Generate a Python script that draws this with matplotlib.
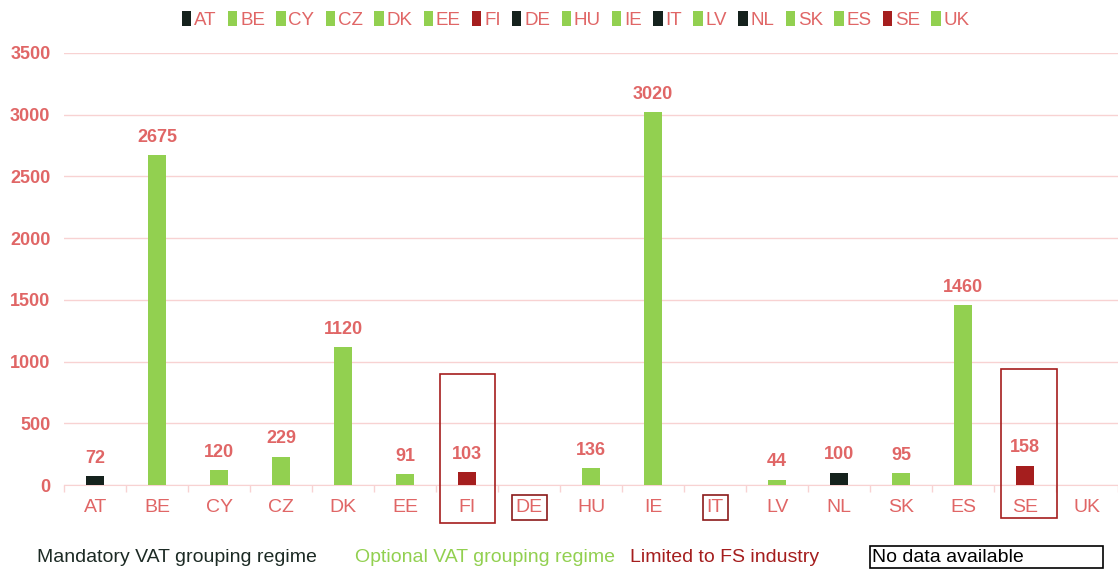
import matplotlib
matplotlib.use("Agg")
import matplotlib.pyplot as plt
from matplotlib.patches import Rectangle, Patch
import numpy as np

plt.rcParams['font.family'] = ['Liberation Sans', 'DejaVu Sans']

countries = ["AT", "BE", "CY", "CZ", "DK", "EE", "FI", "DE", "HU", "IE", "IT", "LV", "NL", "SK", "ES", "SE", "UK"]
values = [72, 2675, 120, 229, 1120, 91, 103, None, 136, 3020, None, 44, 100, 95, 1460, 158, None]
regime = ["M", "O", "O", "O", "O", "O", "F", "M", "O", "O", "M", "O", "M", "O", "O", "F", "O"]
no_data = ["DE", "IT"]
highlight = ["FI", "SE"]
yticks = [0, 500, 1000, 1500, 2000, 2500, 3000, 3500]

colors = {"M": "#15221d", "O": "#92d050", "F": "#a51e1e"}
txt = "#e06666"
grid = "#f8d2d2"

fig = plt.figure(figsize=(11.18, 5.71), dpi=100)
ax = fig.add_axes([0.0575, 0.1506, 0.9425, 0.7566])

x = np.arange(len(countries))
for i, (v, r) in enumerate(zip(values, regime)):
    if v is None:
        continue
    ax.bar(i, v, width=0.29, color=colors[r], zorder=3)
    ax.text(i, v + 75, str(v), ha="center", va="bottom", color=txt,
            fontsize=13, fontweight="bold", zorder=4)

ax.set_xlim(-0.5, len(countries) - 0.5)
ax.set_ylim(0, 3500)
ax.set_yticks(yticks)
ax.set_yticklabels([str(t) for t in yticks], color=txt, fontsize=13, fontweight="bold")
ax.set_xticks(x)
ax.set_xticklabels(countries, color=txt, fontsize=14)
ax.tick_params(axis="y", length=0, pad=10)
ax.tick_params(axis="x", which="major", length=0, pad=10)
ax.set_xticks(np.arange(-0.5, len(countries), 1), minor=True)
ax.tick_params(axis="x", which="minor", length=5, color=grid, width=1)
ax.grid(axis="y", color=grid, linewidth=1, zorder=0)
for s in ["top", "right", "left"]:
    ax.spines[s].set_visible(False)
ax.spines["bottom"].set_color(grid)

for lab in ax.get_xticklabels():
    if lab.get_text() in no_data:
        lab.set_bbox(dict(boxstyle="square,pad=0.2", facecolor="none", edgecolor="#8b1a1a", linewidth=1.2))

box_left = {"FI": -0.44, "SE": -0.38}
box_top = {"FI": 900, "SE": 940}
box_bot = {"FI": -308, "SE": -268}
for c in highlight:
    i = countries.index(c)
    ax.add_patch(Rectangle((i + box_left[c], box_bot[c]), 0.89, box_top[c] - box_bot[c], fill=False,
                           edgecolor="#a51e1e", linewidth=1.2, clip_on=False, zorder=5))

handles = [Patch(facecolor=colors[r], edgecolor="none") for r in regime]
leg = fig.legend(handles, countries, loc="upper center", bbox_to_anchor=(0.515, 1.01), ncol=len(countries),
                 frameon=False, fontsize=13.5, handlelength=0.5, handleheight=0.8, handletextpad=0.15,
                 columnspacing=0.6)
for t in leg.get_texts():
    t.set_color(txt)

fig.text(37 / 1118, 1 - 558 / 571, "Mandatory VAT grouping regime", color="#1c2a24", fontsize=14, va="center")
fig.text(355 / 1118, 1 - 558 / 571, "Optional VAT grouping regime", color="#92d050", fontsize=14, va="center")
fig.text(630 / 1118, 1 - 558 / 571, "Limited to FS industry", color="#a51e1e", fontsize=14, va="center")
fig.patches.append(Rectangle((870 / 1118, 1 - 568 / 571), 233 / 1118, 22 / 571, transform=fig.transFigure,
                             fill=False, edgecolor="black", linewidth=1.2))
fig.text(872 / 1118, 1 - 558 / 571, "No data available", color="black", fontsize=14, va="center")

fig.savefig("out.png", dpi=100)
